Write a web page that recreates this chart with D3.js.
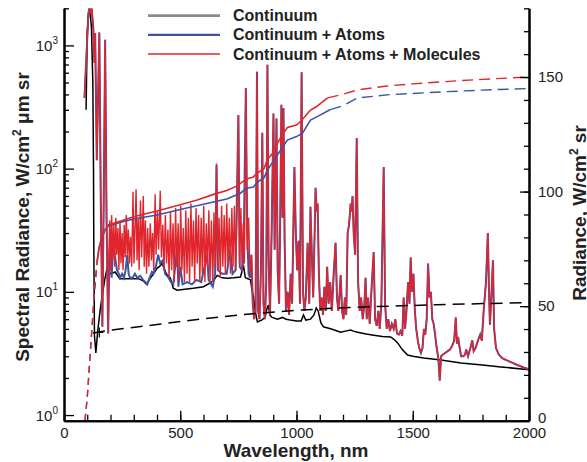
<!DOCTYPE html>
<html>
<head>
<meta charset="utf-8">
<script src="https://cdn.jsdelivr.net/npm/d3@7"></script>
<style>
  body { margin: 0; background: #fff; }
  svg { font-family: "Liberation Sans", Arial, Helvetica, sans-serif; }
  .axis path { stroke: #000; stroke-width: 2; }
  .axis line { stroke: #000; stroke-width: 1.3; }
  .axis text { font-size: 15px; fill: #222; }
</style>
</head>
<body>
<div id="chart"></div>
<script>
// Tick values
const xTicks = [0, 500, 1000, 1500, 2000];
const rightTicks = [0, 50, 100, 150];
const decades = [0, 1, 2, 3];

// Legend entries
const seriesNames = ["Continuum", "Continuum + Atoms", "Continuum + Atoms + Molecules"];

// Spectral radiance, continuum only  [wavelength nm, W/cm2 um sr]
const continuum = [
  [95,300],[100,1300],[106,1800],[112,1900],[118,1400],[124,500],[127,95],[128,28],[131,4.4],[137,3.2],
  [145,4.8],[155,7],[165,9.5],[175,12.5],[185,15.5],[200,14],[220,14.5],[240,12.8],[260,12.8],[280,12.8],
  [300,12.8],[320,12.8],[340,12.3],[355,11.5],[370,12.8],[385,14],[400,15.5],[410,16],[422,17],[440,14],
  [457,13],[470,10.7],[487,10.3],[520,10.5],
  [556,10.7],[600,11],[629,11.8],[645,12.5],[659,13.6],[680,13],[703,12.9],[730,13],[759,13.2],[772,16.4],
  [780,13],[802,12.5],[810,10],[815,9.1],[822,7],[832,5.7],[850,5.9],[865,6.2],[872,7.2],[879,7.8],
  [885,6.5],[895,6.2],[918,6],[940,6.2],[955,6],[974,5.9],[1000,5.8],[1020,5.8],[1030,6.5],[1040,5.9],
  [1060,6],[1075,6.5],[1085,7.4],[1093,7],[1105,5.6],[1116,5.2],[1150,5],[1190,4.7],[1210,4.8],[1233,4.9],
  [1245,4.8],[1263,4.7],[1300,4.55],[1332,4.45],[1370,4.35],[1405,4.3],[1420,4.1],[1435,3.85],[1455,3.4],
  [1478,3.07],[1500,3.0],[1547,2.9],[1621,2.8],[1707,2.65],[1800,2.55],[1879,2.46],[2000,2.33]
];

// Continuum + atoms, below 800 nm
const atomsLow = [
  [88,375],[105,1820],[109,2000],[115,1800],[119,2000],[126,1380],[131,720],[134,1260],[141,117],[152,1270],
  [158,60],[165,5.2],[171,60],[177,1110],[183,40],[190,4.6],[195,18],[200,30],[205,13],[212,26],[220,19],
  [228,15],[236,14],[241,13],[250,14],[258,13],[265,15],[272,20],[278,14],[284,13],[295,13],[305,14],
  [315,13],[328,13.5],[340,12.5],[350,12],[358,11.5],[368,13],[378,14.5],[384,14],[395,16],[405,20],
  [414,17],[425,18],[435,14],[450,13],[460,12],[470,11.5],[486,22],[492,11],[500,16],[510,11.5],[530,12],
  [550,11.5],[570,12.5],[590,12],[616,20],[622,12.5],[640,11],[650,14],[656,107],[662,15],[680,14],
  [700,14],[715,22],[725,14],[738,15],[750,272],[756,16],[765,15],[772,18],[782,450],[788,30],[794,14],[800,13]
];

// Continuum + atoms + molecules, below 800 nm
const moleculesLow = [
  [88,375],[105,1820],[109,2000],[115,1800],[119,2000],[126,1380],[131,720],[134,1260],[141,117],[152,1270],
  [158,60],[165,5.2],[171,60],[177,1110],[183,40],[190,4.6],[193,20],[197,38],[201,15],[205,42],[209,18],
  [214,36],[218,16],[223,40],[227,20],[232,33],[236,15],[241,38],[245,17],[250,30],[254,15],[259,35],
  [263,19],[268,42],[272,20],[277,32],[281,17],[286,28],[291,16],[297,65],[301,17],[306,34],[310,68],
  [314,18],[319,40],[323,15],[329,55],[334,19],[341,60],[345,16],[350,38],[355,14],[360,33],[365,16],
  [371,36],[376,18],[381,30],[386,15],[392,62],[396,20],[402,45],[407,22],[414,66],[419,19],[425,35],
  [430,15],[436,42],[441,17],[447,32],[452,13],[458,45],[463,15],[469,36],[474,12],[480,48],[485,16],
  [491,36],[496,12],[502,50],[507,15],[513,33],[518,12],[524,46],[529,14],[535,40],[540,12],[546,52],
  [551,16],[557,38],[562,12],[568,48],[573,17],[579,42],[584,12],[590,40],[595,14],[601,50],[606,12],
  [612,36],[617,16],[623,46],[628,12],[634,38],[640,12],[645,44],[650,16],[656,110],[661,15],[667,40],
  [672,13],[678,50],[683,16],[689,42],[694,14],[700,52],[705,17],[711,40],[716,14],[722,48],[727,16],
  [733,50],[738,15],[744,45],[750,272],[755,17],[761,48],[766,15],[771,36],[776,17],[782,450],[788,22],
  [794,40],[800,14]
];

// Above 800 nm the two spectra overlap
const linesHigh = [
  [806,20],[812,8],[818,6],[824,7],[830,612],[835,7],[841,6],[847,15],[853,195],[858,8],[864,6],[870,12],
  [875,695],[880,20],[886,6.5],[893,30],[901,280],[906,22],[914,255],[919,15],[925,8],[930,40],[935,330],
  [940,40],[944,310],[949,25],[955,7],[962,10],[968,6.5],[975,14],[981,8],[991,103],[997,30],[1003,15],
  [1009,26],[1015,8],[1022,605],[1028,10],[1034,7],[1040,9],[1048,25],[1055,8],[1060,49],[1066,20],
  [1072,9],[1078,30],[1082,70],[1087,45],[1091,52],[1096,15],[1102,7],[1108,9],[1114,6.5],[1120,11],
  [1126,7],[1132,16],[1138,8],[1145,12],[1152,7],[1160,14],[1168,25],[1174,9],[1180,7],[1186,10],
  [1190,13.7],[1196,7],[1202,6],[1208,9],[1214,6.5],[1220,30],[1226,35],[1233,52],[1237,45],[1241,60],
  [1246,30],[1252,20],[1259,177],[1265,12],[1272,7],[1278,9],[1285,6],[1292,8],[1297,13],[1302,6],
  [1308,9],[1315,5.5],[1322,10],[1332,21],[1338,6],[1345,5.3],[1352,7],[1358,5],[1365,8],[1375,103],
  [1381,8],[1388,5],[1395,6],[1402,4.8],[1410,5.5],[1418,5],[1425,6],[1432,4.6],[1440,4.5],[1447,4.8],
  [1455,4.4],[1461,9],[1467,5],[1473,7],[1480,12],[1486,8],[1491,19],[1497,10],[1503,14],[1509,7],
  [1515,5],[1522,4],[1528,3.5],[1535,3.2],[1542,3.5],[1548,5],[1554,4.5],[1560,6],[1566,17],[1572,9],
  [1578,10],[1584,6],[1590,5.5],[1596,4.5],[1603,3.5],[1610,2.9],[1616,1.9],[1622,3.0],[1630,3.1],
  [1640,3.2],[1650,3.3],[1660,3.4],[1668,3.6],[1678,4],[1685,6.2],[1690,3.8],[1695,4.3],[1700,3.7],
  [1708,3.0],[1718,3.0],[1725,3.1],[1730,3.4],[1738,3.0],[1748,3.5],[1756,4.05],[1762,3.3],[1770,3.5],
  [1780,4],[1790,4.5],[1797,4],[1805,7],[1815,12],[1823,30],[1828,10],[1832,5.4],[1838,9],[1845,18],
  [1850,5],[1858,3.5],[1870,3.1],[1885,2.9],[1900,2.8],[1920,2.7],[1950,2.55],[1980,2.42],[2000,2.35]
];

// Integrated radiance, W/cm2 sr (right axis)
const cumContinuum = [
  [125,38.3],[200,39.5],[400,42],[600,44.5],[800,46.6],[1000,48.2],[1200,49.3],[1400,50.0],[1600,50.6],
  [1800,51.1],[2000,51.5]
];
const cumAtoms = [
  [90,0],[100,10],[110,25],[120,40],[130,55],[142,69],[150,75],[160,79],[175,83],[190,85],[241,86.5],
  [300,88],[400,89.8],[500,92.2],[600,94.5],[700,96.8],[759,99.3],[785,101.5],[815,102],[830,104],
  [860,106],[875,109.4],[918,116],[944,120],[961,122.5],[1000,124],[1026,125.5],[1060,131.2],[1085,132.5],
  [1146,135.8],[1200,137.5],[1263,140.9],[1400,142.3],[1621,143.5],[1800,144.3],[2000,145]
];
const cumMolecules = [
  [90,0],[100,10],[110,25],[120,40],[130,55],[142,69],[150,75],[160,79],[175,83],[190,85.4],[241,87],
  [300,89],[400,91.5],[500,94.3],[573,96.3],[650,99],[700,100.5],[745,102.5],[760,103.7],[785,105.5],
  [815,106.4],[830,108],[860,110],[875,114],[900,117],[918,121],[940,125],[961,128],[1000,129],[1022,131],
  [1060,135.6],[1085,137],[1134,140.9],[1200,142.5],[1263,144.4],[1380,146],[1500,147],[1621,147.9],
  [1800,149],[2000,150]
];
// wavelengths where the integrated curves switch between dashed and solid
const solidStart = 142;
const atomsSolidEnd = 1146;
const moleculesSolidEnd = 1134;
const continuumMark = [152, 38.5];

const atoms = atomsLow.concat(linesHigh);
const molecules = moleculesLow.concat(linesHigh);

const colors = { continuum: "#000000", atoms: "#3b54a5", molecules: "#e0262c" };

function drawChart() {
    const width = 587, height = 462;
    const margin = { top: 8.3, right: 58, bottom: 41.3, left: 64 };
    const plotW = width - margin.left - margin.right;
    const plotH = height - margin.top - margin.bottom;

    const svg = d3.select('#chart').append('svg')
        .attr('width', width)
        .attr('height', height);

    const x = d3.scaleLinear().domain([0, 2000]).range([margin.left, margin.left + plotW]);
    const y = d3.scaleLog().domain([0.9, 2000]).range([margin.top + plotH, margin.top]);
    const yR = d3.scaleLinear().domain([0, 180]).range([margin.top + plotH, margin.top]);

    svg.append('clipPath').attr('id', 'plotClip')
        .append('rect')
        .attr('x', margin.left).attr('y', margin.top)
        .attr('width', plotW).attr('height', plotH);

    const plot = svg.append('g').attr('clip-path', 'url(#plotClip)');

    const line = d3.line().x(d => x(d[0])).y(d => y(d[1]));
    const lineR = d3.line().x(d => x(d[0])).y(d => yR(d[1]));

    function piece(data, lo, hi) {
        return data.filter(d => d[0] >= lo && d[0] <= hi);
    }

    // spectra
    plot.append('path').datum(continuum)
        .attr('d', line).attr('fill', 'none')
        .attr('stroke', colors.continuum).attr('stroke-width', 1.5);
    plot.append('path').datum(atoms)
        .attr('d', line).attr('fill', 'none')
        .attr('stroke', colors.atoms).attr('stroke-width', 2);
    plot.append('path').datum(molecules)
        .attr('d', line).attr('fill', 'none')
        .attr('stroke', colors.molecules).attr('stroke-width', 1.4);

    // integrated radiance
    [[cumAtoms, atomsSolidEnd, colors.atoms], [cumMolecules, moleculesSolidEnd, colors.molecules]].forEach(([data, end, color]) => {
        plot.append('path').datum(piece(data, 0, solidStart))
            .attr('d', lineR).attr('fill', 'none').attr('stroke', color)
            .attr('stroke-width', 1.4).attr('stroke-dasharray', '7,5');
        plot.append('path').datum(piece(data, solidStart, end))
            .attr('d', lineR).attr('fill', 'none').attr('stroke', color)
            .attr('stroke-width', 1.6);
        plot.append('path').datum(piece(data, end, 2000))
            .attr('d', lineR).attr('fill', 'none').attr('stroke', color)
            .attr('stroke-width', 1.4).attr('stroke-dasharray', '11,6');
    });

    plot.append('path').datum(cumContinuum)
        .attr('d', lineR).attr('fill', 'none')
        .attr('stroke', colors.continuum).attr('stroke-width', 1.5)
        .attr('stroke-dasharray', '12,7');

    // small cross at the start of the continuum curve
    const cx = x(continuumMark[0]), cy = yR(continuumMark[1]);
    plot.append('path')
        .attr('d', `M${cx - 4},${cy}H${cx + 4}M${cx},${cy - 5}V${cy + 5}`)
        .attr('stroke', '#000').attr('stroke-width', 1.2);

    // bottom axis
    svg.append('g').attr('class', 'axis')
        .attr('transform', `translate(0,${margin.top + plotH})`)
        .call(d3.axisBottom(x).tickValues(d3.range(0, 2001, 100)).tickSizeInner(-6).tickSizeOuter(0).tickFormat(''));
    svg.append('g').attr('class', 'axis')
        .attr('transform', `translate(0,${margin.top + plotH})`)
        .call(d3.axisBottom(x).tickValues(xTicks).tickSizeInner(-10).tickSizeOuter(0).tickPadding(3).tickFormat(d3.format('d')))
        .call(g => g.selectAll('text').attr('dy', '0.95em'));

    // left log axis
    const minor = y.ticks().filter(t => t >= 1 && Math.abs(Math.log10(t) % 1) > 1e-6);
    svg.append('g').attr('class', 'axis')
        .attr('transform', `translate(${margin.left},0)`)
        .call(d3.axisLeft(y).tickValues(minor).tickSizeInner(-5).tickSizeOuter(0).tickFormat(''));
    const leftAxis = svg.append('g').attr('class', 'axis')
        .attr('transform', `translate(${margin.left},0)`)
        .call(d3.axisLeft(y).tickValues(decades.map(d => Math.pow(10, d))).tickSizeInner(-10).tickSizeOuter(0).tickFormat(''));
    decades.forEach(d => {
        const t = leftAxis.append('text')
            .attr('x', -6).attr('y', y(Math.pow(10, d)) + 5.5)
            .attr('text-anchor', 'end');
        t.append('tspan').text('10');
        t.append('tspan').attr('dy', -7).attr('font-size', '10px').text(d);
    });

    // right linear axis
    svg.append('g').attr('class', 'axis')
        .attr('transform', `translate(${margin.left + plotW},0)`)
        .call(d3.axisRight(yR).tickValues(d3.range(0, 181, 10)).tickSizeInner(-5).tickSizeOuter(0).tickFormat(''));
    svg.append('g').attr('class', 'axis')
        .attr('transform', `translate(${margin.left + plotW},0)`)
        .call(d3.axisRight(yR).tickValues(rightTicks).tickSizeInner(-9).tickSizeOuter(0).tickPadding(9))
        .call(g => g.selectAll('text').filter(d => d === 0).attr('y', -3));

    // axis titles
    const leftTitle = svg.append('text')
        .attr('transform', `translate(29,217) rotate(-90)`)
        .attr('text-anchor', 'middle')
        .attr('font-size', '19px').attr('font-weight', 'bold').attr('fill', '#222');
    leftTitle.append('tspan').text('Spectral Radiance, W/cm');
    leftTitle.append('tspan').attr('dy', -8).attr('font-size', '12px').text('2');
    leftTitle.append('tspan').attr('dy', 8).text(' μm sr');

    const rightTitle = svg.append('text')
        .attr('transform', `translate(586,213) rotate(-90)`)
        .attr('text-anchor', 'middle')
        .attr('font-size', '19px').attr('font-weight', 'bold').attr('fill', '#222');
    rightTitle.append('tspan').text('Radiance, W/cm');
    rightTitle.append('tspan').attr('dy', -8).attr('font-size', '12px').text('2');
    rightTitle.append('tspan').attr('dy', 8).text(' sr');

    svg.append('text')
        .attr('x', 296).attr('y', 457)
        .attr('text-anchor', 'middle')
        .attr('font-size', '19px').attr('font-weight', 'bold').attr('fill', '#222')
        .text('Wavelength, nm');

    // legend
    const legendStyle = [
        { color: '#8a8a8a', width: 2.8 },
        { color: colors.atoms, width: 2.2 },
        { color: colors.molecules, width: 1.5 }
    ];
    seriesNames.forEach((name, i) => {
        const ly = 15.7 + i * 19.2;
        svg.append('line')
            .attr('x1', 148).attr('x2', 220).attr('y1', ly).attr('y2', ly)
            .attr('stroke', legendStyle[i].color).attr('stroke-width', legendStyle[i].width);
        svg.append('text')
            .attr('x', 233).attr('y', ly + 5.5)
            .attr('font-size', '16px').attr('font-weight', 'bold').attr('fill', '#222')
            .text(name);
    });
}

drawChart();
</script>
</body>
</html>
